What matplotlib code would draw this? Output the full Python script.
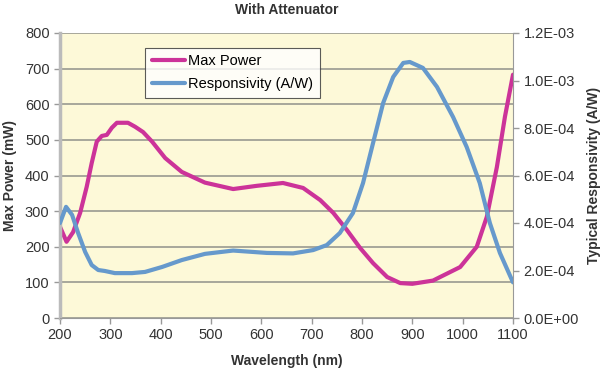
import matplotlib
matplotlib.use("Agg")
import matplotlib.pyplot as plt

# Max Power (mW)
wl_pow = [200, 213, 226, 240, 253, 263, 273, 283, 293, 303, 313, 335, 349, 365, 383, 409,
          442, 488, 544, 591, 643, 683, 717, 743, 770, 796, 822, 850, 876, 900, 941, 995,
          1028, 1048, 1068, 1084, 1100]
max_power = [256, 214, 241, 295, 368, 435, 495, 511, 514, 534, 548, 548, 537, 522, 495, 449,
             410, 380, 362, 371, 379, 365, 331, 295, 247, 197, 154, 115, 98, 96, 105, 143,
             200, 284, 424, 565, 683]

# Responsividad (A/W)
wl_resp = [200, 212, 224, 236, 250, 263, 276, 289, 309, 343, 369, 403, 442, 488, 544, 611,
           663, 703, 730, 756, 782, 802, 822, 842, 862, 882, 895, 921, 949, 981, 1008, 1034,
           1054, 1074, 1100]
resp = [4.0e-4, 4.68e-4, 4.34e-4, 3.58e-4, 2.78e-4, 2.23e-4, 2.02e-4, 1.98e-4, 1.89e-4,
        1.89e-4, 1.94e-4, 2.15e-4, 2.44e-4, 2.7e-4, 2.84e-4, 2.74e-4, 2.72e-4, 2.86e-4,
        3.07e-4, 3.58e-4, 4.42e-4, 5.68e-4, 7.37e-4, 9.05e-4, 1.015e-3, 1.074e-3, 1.078e-3,
        1.053e-3, 9.73e-4, 8.46e-4, 7.2e-4, 5.68e-4, 4.0e-4, 2.74e-4, 1.5e-4]

left_ticks = [0, 100, 200, 300, 400, 500, 600, 700, 800]
right_ticks = [0, 2e-4, 4e-4, 6e-4, 8e-4, 1e-3, 1.2e-3]
x_ticks = [200, 300, 400, 500, 600, 700, 800, 900, 1000, 1100]

plt.rcParams['font.family'] = ['Liberation Sans', 'DejaVu Sans']
magenta = '#cc3399'
azul = '#6699cc'
gris = '#999999'
texto = '#333333'

fig = plt.figure(figsize=(6, 3.75), dpi=100)
ax = fig.add_axes([0.1, 0.152, 0.755, 0.76])
ax.set_facecolor('#fdf9d8')
ax2 = ax.twinx()

l1, = ax.plot(wl_pow, max_power, color=magenta, lw=3, solid_joinstyle='round',
              solid_capstyle='round', label='Max Power')
l2, = ax2.plot(wl_resp, resp, color=azul, lw=3, solid_joinstyle='round',
               solid_capstyle='round', label='Responsivity (A/W)')

ax.set_xlim(200, 1100)
ax.set_ylim(0, 800)
ax2.set_ylim(0, 1.2e-3)
ax.set_xticks(x_ticks)
ax.set_yticks(left_ticks)
ax2.set_yticks(right_ticks)
ax2.set_yticklabels(['%.1E' % v for v in right_ticks])

ax.grid(axis='y', color='#999990', lw=1.2)
ax.set_axisbelow(True)
for a in (ax, ax2):
    for s in ('top', 'right', 'left'):
        a.spines[s].set_visible(False)
    a.tick_params(labelsize=10.5, labelcolor=texto, color=gris, length=4, width=1)
ax.spines['left'].set_visible(True)
ax.spines['left'].set_color('#bbbbbb')
ax.spines['left'].set_linewidth(2.5)
ax.spines['bottom'].set_color(gris)
ax2.spines['right'].set_visible(True)
ax2.spines['right'].set_color(gris)
ax2.spines['bottom'].set_visible(False)

ax.set_xlabel('Wavelength (nm)', fontsize=10, fontweight='bold', color=texto, labelpad=8)
ax.set_ylabel('Max Power (mW)', fontsize=10, fontweight='bold', color=texto, labelpad=6)
ax2.set_ylabel('Typical Responsivity (A/W)', fontsize=10, fontweight='bold', color=texto, labelpad=6)
ax.set_title('With Attenuator', fontsize=10, fontweight='bold', color=texto, pad=14)

leg = ax.legend(handles=[l1, l2], loc='upper left', bbox_to_anchor=(0.188, 0.948),
                borderaxespad=0, fontsize=10.5, frameon=True, fancybox=False,
                handlelength=2.3, handletextpad=0.2, borderpad=0.45, labelspacing=0.6)
leg.get_frame().set_edgecolor(texto)
leg.get_frame().set_linewidth(0.8)

fig.savefig('out.png', dpi=100)
